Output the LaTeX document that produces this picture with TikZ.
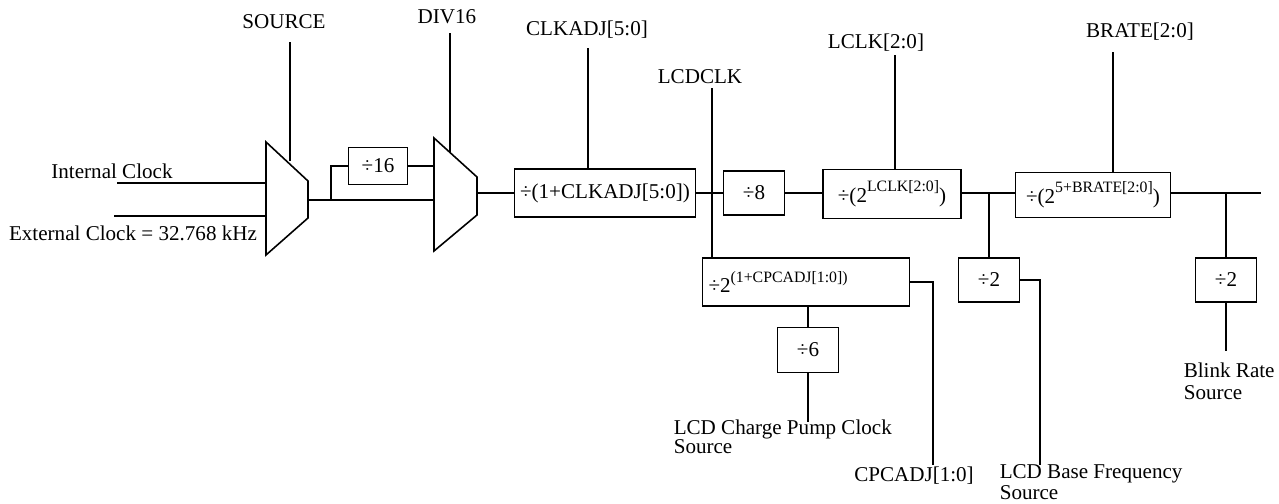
\documentclass[tikz,border=0pt]{standalone}
\usepackage{fontspec}
\setmainfont{Liberation Serif}
\newcommand{\upidx}[1]{\raisebox{0.5em}{\fontsize{9}{9}\selectfont #1}}

\begin{document}
\begin{tikzpicture}[x=0.02cm, y=-0.02cm, line width=0.9pt,
    font=\fontsize{12}{14}\selectfont,
    blk/.style = {draw, inner sep=1pt, minimum width=1.22cm, minimum height=0.88cm},
    lbl/.style = {inner sep=0pt},
    note/.style = {inner sep=0pt, align=left, anchor=north west, font=\fontsize{12}{11}\selectfont}]
        \useasboundingbox (0,0) rectangle (1279,504);
        \draw (266,142) -- (308,181) -- (308,218) -- (266,255) -- cycle;
        \draw (434,138) -- (477,177) -- (477,215) -- (434,251) -- cycle;
        \node[lbl] (source) at (284,22) {SOURCE};
        \node[lbl] (div16lbl) at (447,17) {DIV16};
        \node[lbl] (intclk) at (112,171) {Internal Clock};
        \node[lbl] (extclk) at (133,233) {External Clock = 32.768 kHz};
        \node[lbl] (clkadjlbl) at (587,30) {CLKADJ[5:0]};
        \node[lbl] (lcdclk) at (700,77) {LCDCLK};
        \node[lbl] (lclklbl) at (876,43) {LCLK[2:0]};
        \node[lbl] (bratelbl) at (1140,32) {BRATE[2:0]};
        \node[lbl] (cpcadjlbl) at (914,476) {CPCADJ[1:0]};
        \node[note] (pumplbl) at (673,419) {LCD Charge Pump Clock\\Source};
        \node[note, font=\fontsize{12}{10}\selectfont] (baselbl) at (999,464) {LCD Base Frequency\\Source};
        \node[note, font=\fontsize{12}{12.5}\selectfont] (blinklbl) at (1183,362) {Blink Rate\\Source};
        \node[blk, minimum width=1.18cm, minimum height=0.74cm] (div16) at (378,166) {÷16};
        \node[blk, minimum width=3.62cm, minimum height=0.96cm] (clkadj) at (605,193) {÷(1+CLKADJ[5:0])};
        \node[blk] (div8) at (754,193) {÷8};
        \node[blk, minimum width=2.76cm, minimum height=0.98cm] (lclk) at (892,194) {÷(2\upidx{LCLK[2:0]})};
        \node[blk, minimum width=3.1cm, minimum height=0.9cm] (brate) at (1093,195) {÷(2\upidx{5+BRATE[2:0]})};
        \node[blk, minimum width=4.14cm, minimum height=0.96cm, text width=3.9cm, align=left] (cpcadj) at (806,282) {÷2\upidx{(1+CPCADJ[1:0])}};
        \node[blk, minimum height=0.9cm] (div6) at (808,350) {÷6};
        \node[blk] (div2a) at (989,280) {÷2};
        \node[blk] (div2b) at (1226,280) {÷2};
        \coordinate (in1) at (117,183);
        \coordinate (in2) at (114,216);
        \coordinate (m1in1) at (266,183);
        \coordinate (m1in2) at (266,216);
        \coordinate (m1sel) at (290,161);
        \coordinate (m1out) at (308,200);
        \coordinate (br16) at (331,200);
        \coordinate (m2in1) at (434,166);
        \coordinate (m2in2) at (434,200);
        \coordinate (m2sel) at (450,153);
        \coordinate (m2out) at (477,193);
        \coordinate (srcin) at (290,42);
        \coordinate (div16in) at (450,33);
        \coordinate (adjin) at (588,48);
        \coordinate (lcdclkin) at (712,88);
        \coordinate (lclkin) at (895,55);
        \coordinate (bratein) at (1113,52);
        \coordinate (br2a) at (989,193);
        \coordinate (br2b) at (1226,193);
        \coordinate (brout) at (1261,193);
        \coordinate (pumpend) at (808,422);
        \coordinate (cpcadjend) at (933,465);
        \coordinate (baseend) at (1040,465);
        \coordinate (blinkend) at (1226,351);
        \draw (in1) -- (m1in1);
        \draw (in2) -- (m1in2);
        \draw (srcin) -- (m1sel);
        \draw (div16in) -- (m2sel);
        \draw (m1out) -- (m2in2);
        \draw (br16) |- (div16);
        \draw (div16) -- (m2in1);
        \draw (m2out) -- (clkadj);
        \draw (adjin) -- (adjin |- clkadj.north);
        \draw (clkadj) -- (div8);
        \draw (div8) -- (lclk.west |- div8);
        \draw (lclkin) -- (lclkin |- lclk.north);
        \draw (lclk.east |- br2a) -- (brate.west |- br2a);
        \draw (bratein) -- (bratein |- brate.north);
        \draw (brate.east |- brout) -- (brout);
        \draw (lcdclkin) -- (lcdclkin |- cpcadj.north);
        \draw (div6) -- (div6 |- cpcadj.south);
        \draw (div6) -- (pumpend);
        \draw (cpcadj.east) -| (cpcadjend);
        \draw (br2a) -- (div2a);
        \draw (div2a.east) -| (baseend);
        \draw (br2b) -- (div2b);
        \draw (div2b) -- (blinkend);
      \end{tikzpicture}
\end{document}
